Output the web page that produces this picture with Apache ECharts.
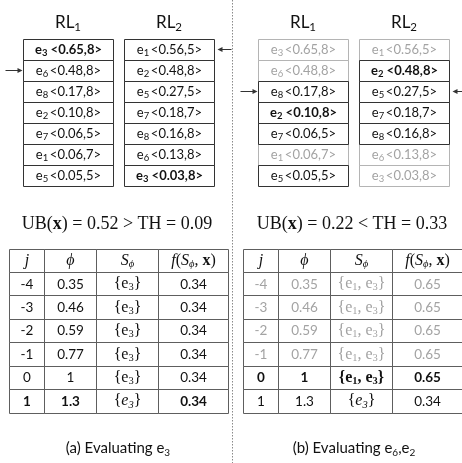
<!DOCTYPE html>
<html><head><meta charset="utf-8">
<script src="https://cdn.jsdelivr.net/npm/echarts@6/dist/echarts.min.js"></script>
<style>html,body{margin:0;padding:0;background:#fff}#c{width:462px;height:463px}</style>
</head><body><div id="c"></div>
<script>
const SANS = 'Lato, "Open Sans", sans-serif';
const SERIF = '"Liberation Serif", "DejaVu Serif", serif';
const BLACK = '#111111', GRAY = '#a3a3a3';

// ---- list data ----
const listNames = ['RL', 'RL'];
const listSubs = ['1', '2'];
const rl1Ids = ['3', '6', '8', '2', '7', '1', '5'];
const rl1Scores = [0.65, 0.48, 0.17, 0.10, 0.06, 0.06, 0.05];
const rl1Counts = [8, 8, 8, 8, 5, 7, 5];
const rl2Ids = ['1', '2', '5', '7', '8', '6', '3'];
const rl2Scores = [0.56, 0.48, 0.27, 0.18, 0.16, 0.13, 0.03];
const rl2Counts = [5, 8, 5, 7, 8, 8, 8];
// state: 0 normal, 1 bold, 2 grey
const leftRl1State = [1, 0, 0, 0, 0, 0, 0];
const leftRl2State = [0, 0, 0, 0, 0, 0, 1];
const rightRl1State = [2, 2, 0, 1, 0, 2, 0];
const rightRl2State = [2, 1, 0, 0, 0, 2, 2];
const leftPointers = [1, 0];
const rightPointers = [2, 2];

// ---- formula / table data ----
const ubValues = ['0.52', '0.22'];
const ubRelations = ['>', '<'];
const thValues = ['0.09', '0.33'];
const tableJ = [-4, -3, -2, -1, 0, 1];
const tablePhi = ['0.35', '0.46', '0.59', '0.77', '1', '1.3'];
const leftSets = [['3'], ['3'], ['3'], ['3'], ['3'], ['3']];
const leftF = ['0.34', '0.34', '0.34', '0.34', '0.34', '0.34'];
const leftRowState = [0, 0, 0, 0, 0, 1];
const leftSetStyle = ['roman', 'roman', 'roman', 'roman', 'roman', 'italic'];
const rightSets = [['1', '3'], ['1', '3'], ['1', '3'], ['1', '3'], ['1', '3'], ['3']];
const rightF = ['0.65', '0.65', '0.65', '0.65', '0.65', '0.34'];
const rightRowState = [2, 2, 2, 2, 1, 0];
const rightSetStyle = ['roman', 'roman', 'roman', 'roman', 'bold', 'italic'];
const captionTexts = ['{c|(a) Evaluating e}{cs|3}', '{c|(b) Evaluating e}{cs|6}{c|,e}{cs|2}'];

// ---- layout constants ----
const BOX_GAP = 11;
const TABLE_COLS = [35, 51.5, 62, 70];
const TABLE_EDGES = TABLE_COLS.reduce((a, w) => { a.push(a[a.length - 1] + w); return a; }, [0]);
const TABLE_W = TABLE_EDGES[TABLE_EDGES.length - 1];

function crisp(v) { return Math.round(v - 0.5) + 0.5; }

function rich(color, weight) {
  const w = weight || 'normal';
  const tok = (o) => Object.assign({ fill: color, color: color, fontWeight: w }, o);
  return {
    t: tok({ fontFamily: SANS, fontSize: 13, lineHeight: 16 }),
    s: tok({ fontFamily: SANS, fontSize: 9.5, lineHeight: 7, verticalAlign: 'bottom' }),
    n: tok({ fontFamily: SANS, fontSize: 13.5, lineHeight: 18 }),
    r: tok({ fontFamily: SERIF, fontSize: 16, lineHeight: 18 }),
    ri: tok({ fontFamily: SERIF, fontSize: 16, fontStyle: 'italic', lineHeight: 18 }),
    rs: tok({ fontFamily: SERIF, fontSize: 10.5, lineHeight: 7, verticalAlign: 'bottom' }),
    rsi: tok({ fontFamily: SERIF, fontSize: 10.5, fontStyle: 'italic', lineHeight: 7, verticalAlign: 'bottom' }),
    rb: tok({ fontFamily: SERIF, fontSize: 16, fontWeight: 'bold', lineHeight: 18 }),
    f: tok({ fontFamily: SERIF, fontSize: 18, lineHeight: 20 }),
    fb: tok({ fontFamily: SERIF, fontSize: 18, fontWeight: 'bold', lineHeight: 20 }),
    c: tok({ fontFamily: SANS, fontSize: 15, lineHeight: 20 }),
    cs: tok({ fontFamily: SANS, fontSize: 10, lineHeight: 8, verticalAlign: 'bottom' })
  };
}

function listRender(states, pointers) {
  return function (params, api) {
    const col = api.value(0), row = api.value(1);
    const ids = col === 0 ? rl1Ids : rl2Ids;
    const scores = col === 0 ? rl1Scores : rl2Scores;
    const counts = col === 0 ? rl1Counts : rl2Counts;
    const st = states[col][row];
    const c = api.coord([col, row]);
    const band = api.size([1, 1]);
    const w = band[0] - BOX_GAP, h = band[1];
    const x0 = crisp(c[0] - w / 2), x1 = crisp(c[0] + w / 2);
    const y0 = crisp(c[1] - h / 2), y1 = crisp(c[1] + h / 2);
    const color = st === 2 ? GRAY : BLACK;
    const sp = st === 1 ? ' ' : '\u2009';
    const children = [
      { type: 'rect', z2: st === 2 ? 1 : 2, shape: { x: x0, y: y0, width: x1 - x0, height: y1 - y0 },
        style: { fill: 'rgba(255,255,255,0)', stroke: st === 2 ? '#b4b4b4' : '#333333', lineWidth: 1 } },
      { type: 'text', z2: 5, x: (x0 + x1) / 2, y: c[1],
        style: { text: `{t|e}{s|${ids[row]}}{t|${sp}<${scores[row].toFixed(2)},${counts[row]}>}`,
          rich: rich(color, st === 1 ? 'bold' : 'normal'), align: 'center', verticalAlign: 'middle' } }
    ];
    if (pointers[col] === row) {
      const y = crisp(c[1]);
      if (col === 0) {
        children.push({ type: 'line', z2: 6, shape: { x1: x0 - 18, y1: y, x2: x0 - 4, y2: y }, style: { stroke: '#333', lineWidth: 1 } });
        children.push({ type: 'polygon', z2: 6, shape: { points: [[x0 - 1, y], [x0 - 6, y - 2.5], [x0 - 6, y + 2.5]] }, style: { fill: '#333' } });
      } else {
        children.push({ type: 'line', z2: 6, shape: { x1: x1 + 17, y1: y, x2: x1 + 6, y2: y }, style: { stroke: '#333', lineWidth: 1 } });
        children.push({ type: 'polygon', z2: 6, shape: { points: [[x1 + 3, y], [x1 + 8, y - 2.5], [x1 + 8, y + 2.5]] }, style: { fill: '#333' } });
      }
    }
    return { type: 'group', children: children };
  };
}

function tableCellText(T, col, row) {
  if (row === 0) {
    return ['{ri|j}', '{ri|\u03D5}', '{ri|S}{rsi|\u03D5}', '{ri|f}{r|(}{ri|S}{rsi|\u03D5}{r|, }{rb|x}{r|)}'][col];
  }
  const r = row - 1;
  if (col === 0) return `{n|${tableJ[r]}}`;
  if (col === 1) return `{n|${tablePhi[r]}}`;
  if (col === 3) return `{n|${T.f[r]}}`;
  const ss = T.setStyle[r];
  const e = ss === 'italic' ? 'ri' : (ss === 'bold' ? 'rb' : 'r');
  const es = ss === 'italic' ? 'rsi' : 'rs';
  return '{r|{}' + T.sets[r].map(id => `{${e}|e}{${es}|${id}}`).join('{r|, }') + '}';
}

function tableRender(T) {
  return function (params, api) {
    const col = api.value(0), row = api.value(1);
    const xa = crisp(api.coord([TABLE_EDGES[col], row])[0]);
    const xb = crisp(api.coord([TABLE_EDGES[col + 1], row])[0]);
    const cy = api.coord([0, row])[1];
    const h = api.size([0, 1])[1];
    const ya = crisp(cy - h / 2), yb = crisp(cy + h / 2);
    const st = row === 0 ? 0 : T.rowState[row - 1];
    const color = st === 2 ? GRAY : BLACK;
    let weight = st === 1 ? 'bold' : 'normal';
    if (col === 2 && row > 0) weight = T.setStyle[row - 1] === 'bold' ? 'bold' : 'normal';
    return { type: 'group', children: [
      { type: 'rect', shape: { x: xa, y: ya, width: xb - xa, height: yb - ya },
        style: { fill: 'rgba(0,0,0,0)', stroke: '#5e5e5e', lineWidth: 1 } },
      { type: 'text', x: (xa + xb) / 2, y: cy,
        style: { text: tableCellText(T, col, row), rich: rich(color, weight), align: 'center', verticalAlign: 'middle',
          fontFamily: SERIF, fontSize: 16, fontWeight: weight, fill: color } }
    ] };
  };
}

const listCells = [];
for (let c = 0; c < 2; c++) for (let r = 0; r < rl1Ids.length; r++) listCells.push([c, r]);
const tableCells = [];
for (let r = 0; r <= tableJ.length; r++) for (let c = 0; c < TABLE_COLS.length; c++) tableCells.push([c, r]);
const rowCats7 = rl1Ids.map((_, i) => i);
const tableRows = [0].concat(tableJ.map((_, i) => i + 1));

const leftTable = { sets: leftSets, f: leftF, rowState: leftRowState, setStyle: leftSetStyle };
const rightTable = { sets: rightSets, f: rightF, rowState: rightRowState, setStyle: rightSetStyle };

function listXAxis(g) {
  return { gridIndex: g, type: 'category', data: listSubs, position: 'top',
    axisLine: { show: false }, axisTick: { show: false }, splitLine: { show: false },
    axisLabel: { interval: 0, margin: 6, formatter: (v, i) => `{m|${listNames[i]}}{s|${listSubs[i]}}`,
      rich: { m: { fontFamily: SANS, fontSize: 17, color: BLACK, lineHeight: 20 },
              s: { fontFamily: SANS, fontSize: 11.5, color: BLACK, lineHeight: 8, verticalAlign: 'bottom' } } } };
}
function catY(g, data) { return { gridIndex: g, type: 'category', inverse: true, data: data, show: false }; }

function formulaText(i) {
  return `{f|UB(}{fb|x}{f|) = ${ubValues[i]} ${ubRelations[i]} TH = ${thValues[i]}}`;
}

const chart = echarts.init(document.getElementById('c'), null, { renderer: 'canvas' });
chart.setOption({
  animation: false,
  backgroundColor: '#fff',
  grid: [
    { left: 17.5, top: 39, width: 202, height: 147 },
    { left: 252.5, top: 39, width: 202, height: 147 },
    { left: 9.5, top: 249, width: TABLE_W, height: 164 },
    { left: 243.5, top: 249, width: TABLE_W, height: 164 }
  ],
  xAxis: [
    listXAxis(0), listXAxis(1),
    { gridIndex: 2, type: 'value', min: 0, max: TABLE_W, show: false },
    { gridIndex: 3, type: 'value', min: 0, max: TABLE_W, show: false }
  ],
  yAxis: [catY(0, rowCats7), catY(1, rowCats7), catY(2, tableRows), catY(3, tableRows)],
  series: [
    { type: 'custom', xAxisIndex: 0, yAxisIndex: 0, clip: false, data: listCells, renderItem: listRender([leftRl1State, leftRl2State], leftPointers) },
    { type: 'custom', xAxisIndex: 1, yAxisIndex: 1, clip: false, data: listCells, renderItem: listRender([rightRl1State, rightRl2State], rightPointers) },
    { type: 'custom', xAxisIndex: 2, yAxisIndex: 2, clip: false, data: tableCells, renderItem: tableRender(leftTable) },
    { type: 'custom', xAxisIndex: 3, yAxisIndex: 3, clip: false, data: tableCells, renderItem: tableRender(rightTable) }
  ],
  graphic: [
    { type: 'line', shape: { x1: 232.5, y1: 0, x2: 232.5, y2: 463 }, style: { stroke: '#8a8a8a', lineWidth: 1, lineDash: [1.5, 1.5] } },
    { type: 'text', x: 117, y: 224, style: { text: formulaText(0), rich: rich(BLACK), align: 'center', verticalAlign: 'middle' } },
    { type: 'text', x: 352, y: 224, style: { text: formulaText(1), rich: rich(BLACK), align: 'center', verticalAlign: 'middle' } },
    { type: 'text', x: 118, y: 448, style: { text: captionTexts[0], rich: rich(BLACK), align: 'center', verticalAlign: 'middle' } },
    { type: 'text', x: 354, y: 448, style: { text: captionTexts[1], rich: rich(BLACK), align: 'center', verticalAlign: 'middle' } }
  ]
});
</script></body></html>
